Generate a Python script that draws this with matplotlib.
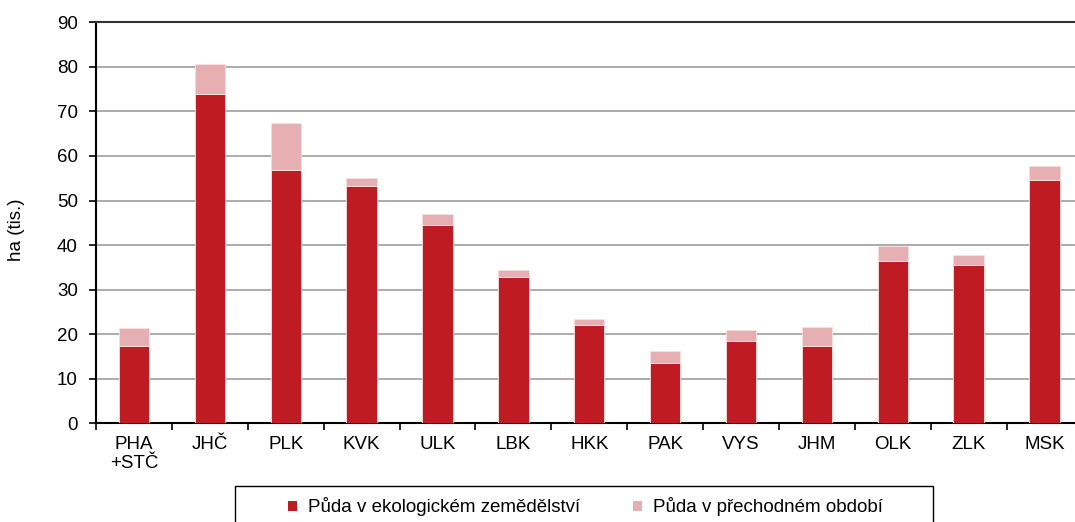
import matplotlib
matplotlib.use("Agg")
import matplotlib.pyplot as plt
from matplotlib.patches import Rectangle
import numpy as np

categories = ["PHA\n+STČ", "JHČ", "PLK", "KVK", "ULK", "LBK", "HKK", "PAK", "VYS", "JHM", "OLK", "ZLK", "MSK"]
eko = [17.3, 73.8, 56.9, 53.3, 44.6, 32.9, 22.1, 13.6, 18.5, 17.3, 36.4, 35.6, 54.5]
prechod = [4.1, 6.8, 10.5, 1.7, 2.3, 1.6, 1.3, 2.6, 2.4, 4.4, 3.4, 2.2, 3.3]
series_labels = ["Půda v ekologickém zemědělství", "Půda v přechodném období"]

plt.rcParams['font.family'] = ['Liberation Sans', 'DejaVu Sans']
FS = 13.5

W, H = 1075, 522
fig = plt.figure(figsize=(W/100, H/100), dpi=100)
ax = fig.add_axes([96/W, (H-423.3)/H, 986.5/W, 401/H])

x = np.arange(len(categories))
red = "#BE1B23"
pink = "#E6B0B3"
b1 = ax.bar(x, eko, width=0.4, color=red, edgecolor="#f6e0e0", linewidth=0.6, label=series_labels[0], zorder=3)
b2 = ax.bar(x, prechod, width=0.4, bottom=eko, color=pink, edgecolor="#f6e0e0", linewidth=0.6, label=series_labels[1], zorder=3)

ax.set_xlim(-0.5, len(categories) - 0.5)
ax.set_ylim(0, 90)
ax.set_yticks(np.arange(0, 91, 10))
ax.yaxis.grid(True, color="#a6a6a6", linewidth=1.3, zorder=0)
ax.set_axisbelow(True)

ax.set_xticks(x)
ax.set_xticklabels(categories, fontsize=FS, linespacing=1.15)
ax.set_xticks(np.arange(-0.5, len(categories), 1), minor=True)
ax.tick_params(axis='x', which='major', length=0, pad=9.5)
ax.tick_params(axis='x', which='minor', length=5, width=1.2, direction='out')
ax.tick_params(axis='y', length=5, width=1.2, labelsize=FS, pad=8)

ax.spines["right"].set_visible(False)
ax.spines["top"].set_color("#333333")
ax.spines["top"].set_linewidth(1.5)
ax.spines["left"].set_linewidth(1.5)
ax.spines["bottom"].set_linewidth(1.5)

ax.set_ylabel("ha (tis.)", fontsize=FS)
ax.yaxis.set_label_coords((25 - 96) / 986.5, (423.3 - 230) / 401)

# legend frame drawn in figure pixels
fig.patches.append(Rectangle((235/W, -0.02), (933-235)/W, (H-486)/H + 0.02,
                             transform=fig.transFigure, fill=False,
                             edgecolor="black", linewidth=1.0))
leg = fig.legend(handles=[b1, b2], labels=series_labels, loc='center left',
                 bbox_to_anchor=(288/W, (H-507)/H), ncol=2, fontsize=FS,
                 frameon=False, handlelength=0.46, handleheight=0.46,
                 columnspacing=2.85, borderpad=0, borderaxespad=0, handletextpad=0.6)
for h in leg.legend_handles:
    h.set_edgecolor("none")

fig.savefig("out.png", dpi=100)
